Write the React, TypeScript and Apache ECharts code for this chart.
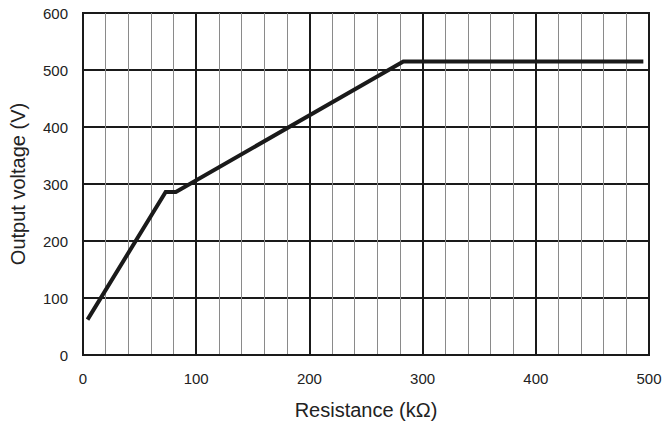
import React, { useEffect, useRef } from "react";
import * as echarts from "echarts";

const resistance: number[] = [4, 73, 82, 283, 495];
const voltage: number[] = [62, 286, 286, 515, 515];
const xTicks: number[] = [0, 100, 200, 300, 400, 500];
const yTicks: number[] = [0, 100, 200, 300, 400, 500, 600];

const FONT = "Liberation Sans, Arial, Helvetica, sans-serif";

export default function App() {
  const ref = useRef<HTMLDivElement>(null);
  useEffect(() => {
    if (!ref.current) return;
    const chart = echarts.init(ref.current, undefined, { renderer: "svg" });
    const data = resistance.map((r, i) => [r, voltage[i]]);
    chart.setOption({
      animation: false,
      backgroundColor: "#ffffff",
      grid: {
        left: 78,
        top: 13,
        right: 17,
        bottom: 72,
        show: true,
        borderColor: "#1a1a1a",
        borderWidth: 2,
        backgroundColor: "transparent",
      },
      xAxis: {
        type: "value",
        min: xTicks[0],
        max: xTicks[xTicks.length - 1],
        interval: 100,
        name: "Resistance (kΩ)",
        nameLocation: "middle",
        nameGap: 45,
        nameTextStyle: { fontFamily: FONT, fontSize: 20, color: "#222" },
        axisLine: { show: true, lineStyle: { color: "#1a1a1a", width: 2 } },
        axisTick: { show: false },
        axisLabel: { fontFamily: FONT, fontSize: 15, color: "#222", margin: 16 },
        splitLine: { show: true, lineStyle: { color: "#1a1a1a", width: 2 } },
        minorTick: { show: false, splitNumber: 5 },
        minorSplitLine: { show: true, lineStyle: { color: "#8a8a8a", width: 1 } },
      },
      yAxis: {
        type: "value",
        min: yTicks[0],
        max: yTicks[yTicks.length - 1],
        interval: 100,
        name: "Output voltage (V)",
        nameLocation: "middle",
        nameGap: 55,
        nameTextStyle: { fontFamily: FONT, fontSize: 20, color: "#222" },
        axisLine: { show: true, lineStyle: { color: "#1a1a1a", width: 2 } },
        axisTick: { show: false },
        axisLabel: { fontFamily: FONT, fontSize: 15, color: "#222", margin: 15 },
        splitLine: { show: true, lineStyle: { color: "#1a1a1a", width: 2 } },
      },
      series: [
        {
          type: "line",
          data,
          symbol: "none",
          lineStyle: { color: "#1a1a1a", width: 4, join: "miter" },
          z: 5,
        },
      ],
    });
    return () => chart.dispose();
  }, []);
  return <div ref={ref} style={{ width: 666, height: 427, position: "absolute", left: 0, top: 0 }} />;
}
